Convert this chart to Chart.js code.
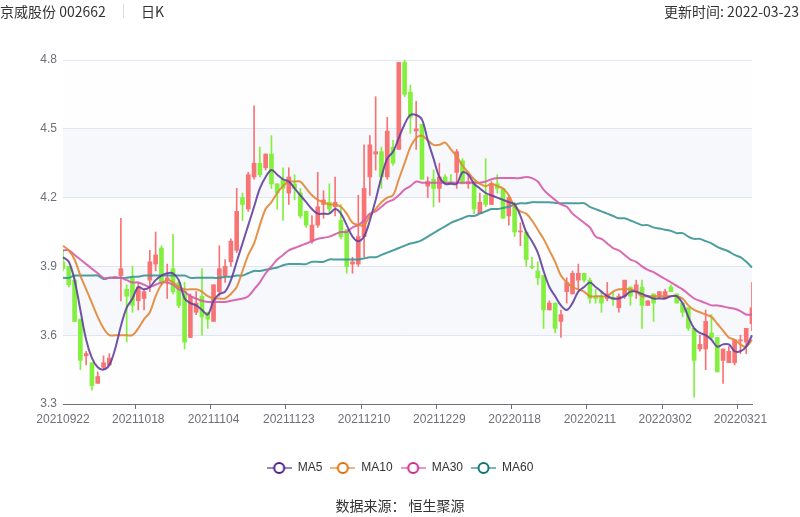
<!DOCTYPE html>
<html lang="zh-CN">
  <head>
    <meta charset="utf-8" />
    <title>京威股份 002662 日K</title>
    <style>
      body {
        margin: 0;
        background: #fff;
        font-family: "Noto Sans CJK SC", "Noto Sans", sans-serif;
        color: #333;
      }
      #wrap {
        position: relative;
        width: 800px;
        height: 517px;
      }
      #chart {
        position: absolute;
        left: 0;
        top: 0;
      }
      .txt {
        position: absolute;
        font-size: 14px;
        line-height: 18px;
        white-space: nowrap;
      }
      .sep {
        position: absolute;
        left: 123px;
        top: 4px;
        width: 1px;
        height: 14px;
        background: #dcdcdc;
      }
    </style>
  </head>
  <body>
    <div id="wrap">
      <canvas id="chart" width="800" height="517"></canvas>
      <div class="txt" style="left: 0; top: 2px">京威股份 002662</div>
      <div class="sep"></div>
      <div class="txt" style="left: 141px; top: 2px">日K</div>
      <div class="txt" style="right: 1px; top: 2px">更新时间: 2022-03-23</div>
      <div class="txt" style="left: 0; width: 800px; top: 496px; text-align: center">数据来源： 恒生聚源</div>
    </div>

    <script src="https://cdn.jsdelivr.net/npm/chart.js"></script>
    <script>
      const dates = [
        "20210922", "20210923", "20210924", "20210927", "20210928", "20210929", "20210930",
        "20211008", "20211011", "20211012", "20211013", "20211014", "20211015",
        "20211018", "20211019", "20211020", "20211021", "20211022",
        "20211025", "20211026", "20211027", "20211028", "20211029",
        "20211101", "20211102", "20211103", "20211104", "20211105",
        "20211108", "20211109", "20211110", "20211111", "20211112",
        "20211115", "20211116", "20211117", "20211118", "20211119",
        "20211122", "20211123", "20211124", "20211125", "20211126",
        "20211129", "20211130", "20211201", "20211202", "20211203",
        "20211206", "20211207", "20211208", "20211209", "20211210",
        "20211213", "20211214", "20211215", "20211216", "20211217",
        "20211220", "20211221", "20211222", "20211223", "20211224",
        "20211227", "20211228", "20211229", "20211230", "20211231",
        "20220104", "20220105", "20220106", "20220107",
        "20220110", "20220111", "20220112", "20220113", "20220114",
        "20220117", "20220118", "20220119", "20220120", "20220121",
        "20220124", "20220125", "20220126", "20220127", "20220128",
        "20220207", "20220208", "20220209", "20220210", "20220211",
        "20220214", "20220215", "20220216", "20220217", "20220218",
        "20220221", "20220222", "20220223", "20220224", "20220225",
        "20220228", "20220301", "20220302", "20220303", "20220304",
        "20220307", "20220308", "20220309", "20220310", "20220311",
        "20220314", "20220315", "20220316", "20220317", "20220318",
        "20220321", "20220322", "20220323",
      ];

      const opens = [
        3.92, 3.90, 3.84, 3.67, 3.51, 3.48, 3.39, 3.46, 3.47, 3.85,
        3.86, 3.80, 3.85, 3.75, 3.76, 3.84, 3.91, 3.98, 3.84, 3.89,
        3.83, 3.79, 3.59, 3.70, 3.77, 3.70, 3.66, 3.79, 3.86, 3.92,
        3.97, 4.20, 4.15, 4.29, 4.35, 4.33, 4.39, 4.26, 4.28, 4.22,
        4.26, 4.22, 4.14, 4.01, 4.08, 4.17, 4.18, 4.16, 4.10, 4.06,
        3.91, 3.91, 4.03, 4.29, 4.39, 4.40, 4.29, 4.42, 4.41, 4.79,
        4.66, 4.49, 4.52, 4.25, 4.28, 4.24, 4.29, 4.27, 4.31, 4.36,
        4.26, 4.27, 4.13, 4.21, 4.17, 4.26, 4.24, 4.12, 4.16, 4.05,
        4.05, 3.90, 3.88, 3.86, 3.71, 3.74, 3.66, 3.79, 3.78, 3.84,
        3.87, 3.84, 3.77, 3.77, 3.76, 3.765, 3.72, 3.77, 3.81, 3.79,
        3.81, 3.73, 3.78, 3.77, 3.76, 3.81, 3.78, 3.74, 3.72, 3.63,
        3.54, 3.54, 3.61, 3.59, 3.49, 3.48, 3.48, 3.575, 3.57, 3.65,
      ];
      const closes = [
        3.89, 3.82, 3.66, 3.49, 3.52, 3.38, 3.42, 3.48, 3.50, 3.85,
        3.89, 3.77, 3.73, 3.81, 3.79, 3.92, 3.95, 3.83, 3.85, 3.79,
        3.73, 3.57, 3.77, 3.74, 3.68, 3.67, 3.82, 3.89, 3.90, 4.01,
        4.14, 4.17, 4.30, 4.35, 4.30, 4.39, 4.26, 4.22, 4.24, 4.29,
        4.24, 4.12, 4.08, 4.08, 4.16, 4.19, 4.15, 4.18, 4.03, 3.90,
        3.92, 4.03, 4.24, 4.43, 4.40, 4.29, 4.49, 4.35, 4.79, 4.65,
        4.55, 4.50, 4.28, 4.27, 4.24, 4.29, 4.27, 4.26, 4.40, 4.26,
        4.27, 4.15, 4.18, 4.17, 4.26, 4.24, 4.11, 4.20, 4.05, 4.055,
        3.93, 3.895, 3.85, 3.71, 3.74, 3.63, 3.69, 3.83, 3.87, 3.87,
        3.84, 3.76, 3.76, 3.74, 3.78, 3.755, 3.77, 3.84, 3.77, 3.82,
        3.73, 3.75, 3.74, 3.79, 3.79, 3.79, 3.74, 3.70, 3.63, 3.49,
        3.56, 3.66, 3.59, 3.44, 3.54, 3.53, 3.58, 3.58, 3.63, 3.72,
      ];
      const highs = [
        3.97, 3.90, 3.86, 3.67, 3.53, 3.48, 3.44, 3.51, 3.52, 3.85,
        4.11, 3.82, 3.90, 3.83, 3.80, 3.97, 4.05, 3.99, 3.91, 4.04,
        3.84, 3.83, 3.78, 3.79, 3.89, 3.70, 3.82, 3.99, 3.93, 4.02,
        4.24, 4.22, 4.31, 4.60, 4.42, 4.39, 4.47, 4.26, 4.33, 4.33,
        4.30, 4.24, 4.14, 4.12, 4.31, 4.23, 4.26, 4.29, 4.17, 4.06,
        3.94, 4.21, 4.43, 4.47, 4.64, 4.42, 4.55, 4.45, 4.79, 4.80,
        4.69, 4.62, 4.52, 4.29, 4.32, 4.35, 4.30, 4.30, 4.41, 4.37,
        4.30, 4.27, 4.22, 4.37, 4.27, 4.30, 4.24, 4.21, 4.18, 4.09,
        4.05, 3.94, 3.92, 3.86, 3.75, 3.74, 3.71, 3.85, 3.88, 3.91,
        3.87, 3.85, 3.80, 3.79, 3.83, 3.79, 3.78, 3.84, 3.81, 3.84,
        3.84, 3.75, 3.78, 3.79, 3.80, 3.82, 3.78, 3.74, 3.72, 3.63,
        3.60, 3.71, 3.69, 3.59, 3.54, 3.55, 3.58, 3.60, 3.63, 3.83,
      ];
      const lows = [
        3.88, 3.81, 3.66, 3.45, 3.47, 3.36, 3.39, 3.45, 3.47, 3.85,
        3.75, 3.57, 3.70, 3.71, 3.71, 3.79, 3.88, 3.82, 3.76, 3.78,
        3.72, 3.54, 3.59, 3.69, 3.60, 3.63, 3.66, 3.77, 3.83, 3.90,
        3.96, 4.10, 4.14, 4.28, 4.29, 4.32, 4.24, 4.15, 4.10, 4.17,
        4.19, 4.11, 4.07, 4.00, 4.07, 4.11, 4.13, 4.12, 4.02, 3.87,
        3.87, 3.90, 3.94, 4.21, 4.32, 4.24, 4.28, 4.34, 4.41, 4.64,
        4.48, 4.41, 4.28, 4.20, 4.16, 4.18, 4.27, 4.26, 4.24, 4.26,
        4.24, 4.13, 4.13, 4.16, 4.17, 4.22, 4.11, 4.08, 4.03, 3.99,
        3.90, 3.89, 3.82, 3.63, 3.71, 3.61, 3.59, 3.74, 3.78, 3.80,
        3.83, 3.74, 3.74, 3.70, 3.75, 3.73, 3.70, 3.76, 3.73, 3.76,
        3.63, 3.73, 3.66, 3.76, 3.76, 3.79, 3.74, 3.68, 3.62, 3.33,
        3.53, 3.45, 3.58, 3.44, 3.39, 3.48, 3.47, 3.52, 3.52, 3.62,
      ];

      const ma5 = [
        3.94, 3.92, 3.84, 3.71, 3.58, 3.50, 3.46, 3.45, 3.47, 3.54,
        3.64, 3.72, 3.76, 3.81, 3.80, 3.81, 3.84, 3.86, 3.87, 3.87,
        3.84, 3.76, 3.74, 3.73, 3.71, 3.69, 3.75, 3.78, 3.79, 3.84,
        3.92, 4.00, 4.08, 4.16, 4.24, 4.29, 4.32, 4.30, 4.28, 4.27,
        4.24, 4.21, 4.18, 4.15, 4.13, 4.13, 4.13, 4.15, 4.13, 4.08,
        4.03, 4.01, 4.03, 4.10, 4.19, 4.29, 4.37, 4.40, 4.46, 4.52,
        4.56, 4.56, 4.54, 4.45, 4.37, 4.29, 4.26, 4.26, 4.26, 4.31,
        4.30, 4.26, 4.24, 4.22, 4.21, 4.20, 4.19, 4.18, 4.17, 4.12,
        4.05, 4.01, 3.96, 3.88, 3.81, 3.77, 3.73, 3.71, 3.74, 3.79,
        3.81, 3.83, 3.81, 3.79, 3.77, 3.76, 3.76, 3.77, 3.79, 3.79,
        3.78, 3.77, 3.76, 3.76, 3.76, 3.77, 3.77, 3.74, 3.68, 3.63,
        3.61, 3.60, 3.58, 3.55, 3.56, 3.56, 3.53, 3.53, 3.55, 3.60,
      ];
      const ma10 = [
        3.99, 3.97, 3.93, 3.86, 3.80, 3.74, 3.68, 3.63, 3.60, 3.60,
        3.60, 3.60, 3.60, 3.63, 3.67, 3.70, 3.77, 3.82, 3.84, 3.83,
        3.81, 3.80, 3.80, 3.80, 3.79, 3.77, 3.76, 3.76, 3.76, 3.78,
        3.81, 3.88, 3.95, 4.00, 4.08, 4.15, 4.18, 4.22, 4.25, 4.27,
        4.27, 4.27, 4.24, 4.21, 4.19, 4.18, 4.17, 4.17, 4.16, 4.13,
        4.09, 4.08, 4.08, 4.12, 4.15, 4.18, 4.20, 4.21, 4.28, 4.35,
        4.42, 4.46, 4.47, 4.45, 4.43, 4.43, 4.44, 4.41, 4.38, 4.34,
        4.31, 4.28, 4.26, 4.25, 4.26, 4.25, 4.24, 4.21, 4.16, 4.14,
        4.13, 4.10, 4.06, 4.02, 3.97, 3.92, 3.86, 3.83, 3.81, 3.80,
        3.79, 3.77, 3.77, 3.77, 3.77, 3.79, 3.80, 3.80, 3.80, 3.79,
        3.77, 3.77, 3.77, 3.77, 3.77, 3.77, 3.77, 3.76, 3.73, 3.71,
        3.70, 3.69, 3.68, 3.65, 3.62, 3.59, 3.58, 3.56, 3.55, 3.58,
      ];
      const ma30 = [
        3.97, 3.97, 3.95, 3.93, 3.91, 3.89, 3.87, 3.85, 3.85, 3.85,
        3.85, 3.84, 3.83, 3.83, 3.82, 3.81, 3.82, 3.83, 3.83, 3.82,
        3.80, 3.79, 3.77, 3.76, 3.75, 3.745, 3.745, 3.745, 3.745, 3.75,
        3.755, 3.76, 3.77, 3.80, 3.83, 3.87, 3.90, 3.93, 3.95, 3.97,
        3.98, 3.99, 4.00, 4.01, 4.02, 4.025, 4.03, 4.04, 4.05, 4.05,
        4.07, 4.08, 4.10, 4.13, 4.14, 4.16, 4.18, 4.19, 4.21, 4.235,
        4.25, 4.27, 4.265, 4.265, 4.265, 4.265, 4.265, 4.265, 4.265, 4.265,
        4.265, 4.265, 4.265, 4.27, 4.28, 4.285, 4.285, 4.285, 4.285, 4.285,
        4.29, 4.285, 4.27, 4.235, 4.21, 4.19, 4.17, 4.16, 4.13, 4.11,
        4.09, 4.07, 4.03, 4.02, 4.00, 3.98, 3.97, 3.95, 3.93, 3.92,
        3.90, 3.885, 3.875, 3.86, 3.845, 3.83, 3.815, 3.80, 3.78, 3.76,
        3.75, 3.74, 3.73, 3.73, 3.725, 3.72, 3.715, 3.705, 3.69, 3.69,
      ];
      const ma60 = [
        3.85, 3.85, 3.86, 3.86, 3.86, 3.86, 3.86, 3.845, 3.85, 3.85,
        3.85, 3.85, 3.855, 3.855, 3.86, 3.86, 3.86, 3.86, 3.86, 3.86,
        3.86, 3.86, 3.85, 3.85, 3.85, 3.85, 3.85, 3.85, 3.855, 3.855,
        3.86, 3.86, 3.87, 3.88, 3.88, 3.885, 3.89, 3.895, 3.905, 3.91,
        3.91, 3.91, 3.91, 3.92, 3.92, 3.92, 3.93, 3.93, 3.93, 3.93,
        3.93, 3.93, 3.935, 3.94, 3.94, 3.95, 3.96, 3.97, 3.98, 3.99,
        4.00, 4.005, 4.015, 4.03, 4.045, 4.06, 4.075, 4.09, 4.10, 4.11,
        4.12, 4.12, 4.13, 4.14, 4.15, 4.15, 4.155, 4.16, 4.17, 4.175,
        4.175, 4.18, 4.18, 4.18, 4.18, 4.177, 4.175, 4.175, 4.175, 4.175,
        4.175, 4.16, 4.15, 4.14, 4.13, 4.12, 4.11, 4.11, 4.10, 4.09,
        4.08, 4.08, 4.07, 4.065, 4.06, 4.055, 4.045, 4.045, 4.03, 4.02,
        4.02, 4.01, 4.00, 3.985, 3.975, 3.965, 3.95, 3.94, 3.92, 3.895,
      ];

      const yTicks = [3.3, 3.6, 3.9, 4.2, 4.5, 4.8];
      const labelEvery = 13;

      const RED = "#f87474";
      const GREEN = "#82f03c";
      const candleColor = (ctx) =>
        closes[ctx.dataIndex] >= opens[ctx.dataIndex] ? RED : GREEN;

      // legend icon like echarts: short line with hollow circle
      function legendIcon(lineColor, ringColor) {
        const c = document.createElement("canvas");
        c.width = 25;
        c.height = 14;
        const g = c.getContext("2d");
        g.strokeStyle = lineColor;
        g.lineWidth = 2;
        g.beginPath();
        g.moveTo(0, 7);
        g.lineTo(25, 7);
        g.stroke();
        g.beginPath();
        g.arc(12.5, 7, 5, 0, Math.PI * 2);
        g.fillStyle = "#fff";
        g.fill();
        g.strokeStyle = ringColor;
        g.stroke();
        return c;
      }

      function maLine(label, data, color, light, ring) {
        return {
          type: "line",
          label,
          data,
          borderColor: color,
          borderWidth: 2,
          pointRadius: 0,
          pointStyle: legendIcon(light, ring),
          tension: 0.35,
          order: 0,
        };
      }

      // alternating split areas behind the grid
      const splitArea = {
        id: "splitArea",
        beforeDraw(chart) {
          const { ctx, chartArea, scales } = chart;
          const y = scales.y;
          ctx.save();
          ctx.fillStyle = "#fff";
          ctx.fillRect(0, 0, chart.width, chart.height);
          for (let k = 0; k < yTicks.length - 1; k++) {
            const top = y.getPixelForValue(yTicks[k + 1]);
            const bottom = y.getPixelForValue(yTicks[k]);
            ctx.fillStyle = k % 2 ? "rgba(210,219,238,0.2)" : "rgba(250,250,250,0.2)";
            ctx.fillRect(chartArea.left, top, chartArea.right - chartArea.left, bottom - top);
          }
          ctx.restore();
        },
      };

      new Chart(document.getElementById("chart"), {
        type: "bar",
        data: {
          labels: dates,
          datasets: [
            {
              label: "wick",
              data: lows.map((l, i) => [l, highs[i]]),
              backgroundColor: candleColor,
              barThickness: 1,
              minBarLength: 1,
              grouped: false,
              order: 2,
            },
            {
              label: "body",
              data: opens.map((o, i) => [o, closes[i]]),
              backgroundColor: candleColor,
              barThickness: 4,
              minBarLength: 1,
              grouped: false,
              order: 1,
            },
            maLine("MA5", ma5, "rgba(98,64,160,0.9)", "#9b86c4", "#4b1d8c"),
            maLine("MA10", ma10, "rgba(226,134,52,0.9)", "#f2b57c", "#dc6f0a"),
            maLine("MA30", ma30, "rgba(214,90,170,0.9)", "#e898c8", "#cc2a8c"),
            maLine("MA60", ma60, "rgba(58,148,148,0.9)", "#7ab8b8", "#0e7373"),
          ],
        },
        options: {
          responsive: false,
          animation: false,
          layout: { padding: { top: 60, right: 0, bottom: 33, left: 0 } },
          scales: {
            x: {
              type: "category",
              offset: false,
              grid: {
                drawOnChartArea: false,
                tickLength: 5,
                tickColor: (c) => (c.index % labelEvery === 0 ? "#6e7079" : "rgba(0,0,0,0)"),
              },
              border: { color: "#6e7079" },
              ticks: {
                autoSkip: false,
                maxRotation: 0,
                minRotation: 0,
                padding: 3,
                color: "#6e7079",
                font: { family: "'Liberation Sans', Arial, sans-serif", size: 12 },
                callback: (v, i) => (i % labelEvery === 0 ? dates[i] : ""),
              },
              afterFit: (s) => {
                s.height = 50;
              },
            },
            y: {
              min: yTicks[0],
              max: yTicks[yTicks.length - 1],
              afterBuildTicks: (s) => {
                s.ticks = yTicks.map((v) => ({ value: v }));
              },
              grid: { color: "#e0e6f1", drawTicks: false },
              border: { display: false },
              ticks: {
                padding: 6,
                color: "#6e7079",
                font: { family: "'Liberation Sans', Arial, sans-serif", size: 12 },
                callback: (v) => Number(v).toFixed(1),
              },
              afterFit: (s) => {
                s.width = 63;
              },
            },
            // empty right-hand axis only keeps space, so the legend stays centred on the page
            yRight: {
              position: "right",
              min: yTicks[0],
              max: yTicks[yTicks.length - 1],
              grid: { drawOnChartArea: false, drawTicks: false },
              border: { display: false },
              ticks: { display: false },
              afterFit: (s) => {
                s.width = 48;
              },
            },
          },
          plugins: {
            tooltip: { enabled: false },
            legend: {
              position: "bottom",
              labels: {
                usePointStyle: true,
                pointStyleWidth: 25,
                boxHeight: 12,
                padding: 8,
                color: "#333",
                font: { family: "'Liberation Sans', Arial, sans-serif", size: 12 },
                filter: (item) => item.datasetIndex >= 2,
              },
            },
          },
        },
        plugins: [splitArea],
      });
    </script>
  </body>
</html>
